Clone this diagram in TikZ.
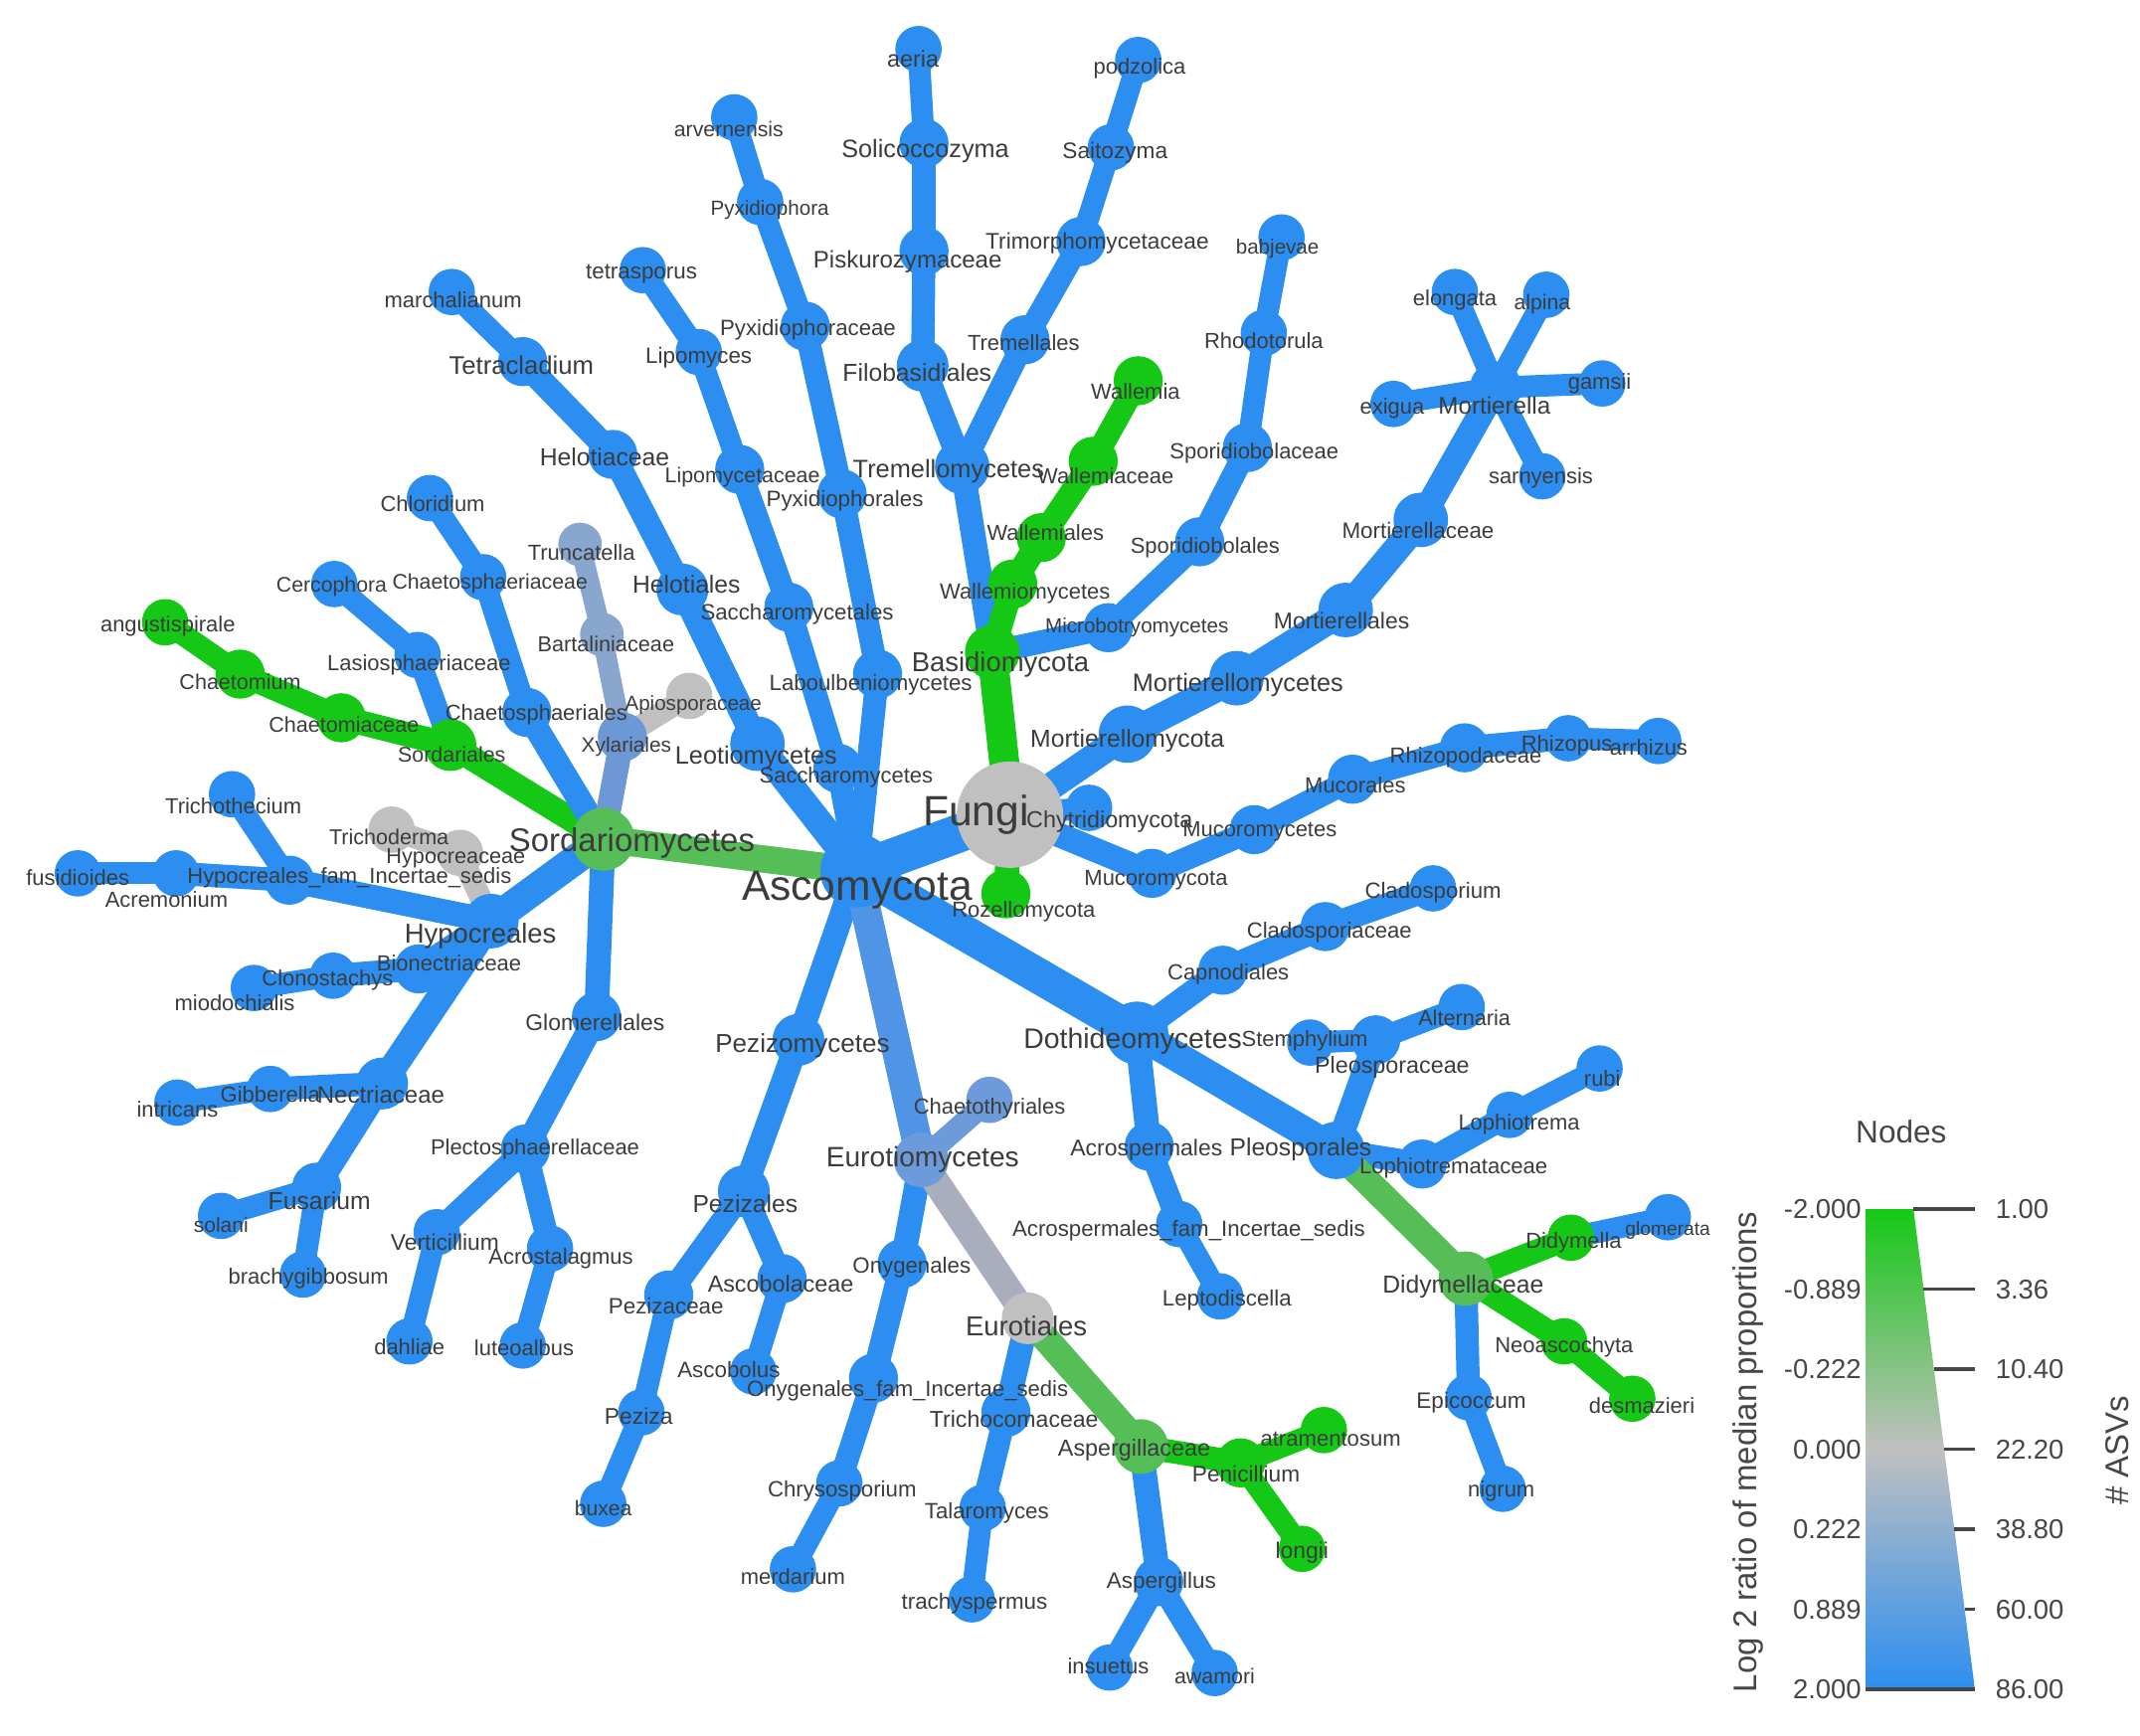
\documentclass[tikz,border=0pt]{standalone}
\usepackage{fontspec}
\setmainfont{Liberation Sans}
\usetikzlibrary{backgrounds}
\definecolor{cb}{RGB}{44,142,240}
\definecolor{cg}{RGB}{22,200,22}
\definecolor{cm}{RGB}{86,190,86}
\definecolor{cy}{RGB}{192,192,192}
\definecolor{cx1}{RGB}{108,152,214}
\definecolor{cx2}{RGB}{136,166,206}
\definecolor{ce}{RGB}{80,148,230}
\definecolor{cen}{RGB}{108,154,218}
\definecolor{cey}{RGB}{168,174,190}
\definecolor{labc}{RGB}{60,60,60}
\definecolor{legc}{RGB}{70,70,70}
\tikzset{
 nd/.style 2 args={circle,fill=#1,draw=none,inner sep=0pt,minimum size=#2},
 ed/.style 2 args={draw=#1,line width=#2,line cap=round},
 lb/.style={font=\fontsize{#1}{#1}\selectfont,text=labc,inner sep=0pt,anchor=center},
 lg/.style={font=\fontsize{20}{20}\selectfont,text=legc,inner sep=0pt},
 tick/.style={draw=legc,line width=2.5pt},
}
\newcommand{\TN}[5]{\node[nd={#4}{#5}] (#1) at (#2,#3) {};}
\newcommand{\TE}[4]{\draw[ed={#1}{#2}] (#3.center) -- (#4.center);}
\newcommand{\TL}[5]{\node[lb=#4] (#1) at (#2,#3) {#5};}
\begin{document}
\begin{tikzpicture}[x=1pt,y=-1pt]
\useasboundingbox (0,0) rectangle (1568,1272);
% ---------- nodes ----------
\TN{fungi}{740}{597}{cy}{78}
\TN{asco}{628}{638}{cb}{54}
\TN{basid}{727}{478}{cg}{40}
\TN{rozel}{737}{655}{cg}{36}
\TN{chytr}{798}{592}{cb}{34}
\TN{mucmy}{844}{640}{cb}{36}
\TN{mortmy}{826}{538}{cb}{42}
% Basidiomycota
\TN{treme}{705}{342}{cb}{40}
\TN{filob}{676}{268}{cb}{38}
\TN{pisku}{677}{184}{cb}{36}
\TN{solic}{677}{105}{cb}{36}
\TN{aeria}{673}{36}{cb}{34}
\TN{tremel}{751}{249}{cb}{36}
\TN{trimo}{792}{177}{cb}{36}
\TN{saito}{814}{108}{cb}{34}
\TN{podzo}{834}{44}{cb}{34}
\TN{wallmy}{742}{428}{cg}{36}
\TN{wallal}{763}{394}{cg}{36}
\TN{wallac}{801}{338}{cg}{36}
\TN{wallem}{834}{279}{cg}{36}
\TN{micro}{812}{460}{cb}{36}
\TN{sporal}{879}{397}{cb}{36}
\TN{sporac}{914}{328}{cb}{36}
\TN{rhodo}{926}{244}{cb}{34}
\TN{babje}{939}{174}{cb}{34}
% Mortierellomycota
\TN{mortcet}{906}{497}{cb}{40}
\TN{mortal}{986}{447}{cb}{40}
\TN{mortac}{1041}{381}{cb}{40}
\TN{mortie}{1096}{284}{cb}{38}
\TN{elong}{1066}{214}{cb}{34}
\TN{alpin}{1133}{216}{cb}{34}
\TN{gamsi}{1174}{281}{cb}{34}
\TN{exigu}{1021}{296}{cb}{34}
\TN{sarny}{1130}{349}{cb}{34}
% Mucoromycota
\TN{mucet}{919}{608}{cb}{36}
\TN{mucal}{991}{571}{cb}{36}
\TN{rhizac}{1073}{548}{cb}{36}
\TN{rhizo}{1149}{541}{cb}{34}
\TN{arrhi}{1215}{543}{cb}{34}
% Sordariomycetes
\TN{sordmy}{442}{615}{cm}{46}
\TN{sordal}{330}{546}{cg}{38}
\TN{chaetac}{250}{526}{cg}{36}
\TN{chaetom}{176}{494}{cg}{36}
\TN{angus}{121}{456}{cg}{34}
\TN{lasio}{306}{480}{cb}{34}
\TN{cerco}{245}{428}{cb}{34}
\TN{chsphal}{386}{522}{cb}{36}
\TN{chsphac}{354}{423}{cb}{34}
\TN{chlori}{315}{365}{cb}{34}
\TN{xylal}{456}{540}{cx1}{36}
\TN{bartal}{441}{465}{cx2}{32}
\TN{trunc}{425}{399}{cx2}{32}
\TN{apios}{505}{510}{cy}{34}
\TN{hypoal}{360}{675}{cb}{40}
\TN{hfam}{212}{645}{cb}{36}
\TN{trichot}{170}{582}{cb}{34}
\TN{acrem}{129}{640}{cb}{34}
\TN{fusid}{57}{640}{cb}{34}
\TN{hypoac}{337}{625}{cy}{34}
\TN{trichod}{287}{608}{cy}{34}
\TN{bionec}{307}{710}{cb}{36}
\TN{clono}{244}{715}{cb}{34}
\TN{miodo}{186}{724}{cb}{34}
\TN{nectr}{280}{794}{cb}{38}
\TN{gibbe}{198}{798}{cb}{34}
\TN{intri}{130}{808}{cb}{34}
\TN{fusar}{232}{870}{cb}{36}
\TN{solan}{162}{891}{cb}{34}
\TN{brach}{222}{934}{cb}{34}
\TN{glome}{437}{745}{cb}{36}
\TN{plect}{385}{842}{cb}{36}
\TN{verti}{320}{903}{cb}{34}
\TN{dahli}{300}{983}{cb}{34}
\TN{acros}{403}{915}{cb}{34}
\TN{luteo}{383}{986}{cb}{34}
% Leotiomycetes
\TN{leoti}{555}{545}{cb}{40}
\TN{helal}{500}{432}{cb}{38}
\TN{helac}{449}{333}{cb}{36}
\TN{tetra}{383}{265}{cb}{36}
\TN{march}{331}{214}{cb}{34}
% Saccharomycetes
\TN{sacchmy}{614}{563}{cb}{36}
\TN{sacchal}{578}{445}{cb}{36}
\TN{lipac}{542}{344}{cb}{36}
\TN{lipom}{512}{258}{cb}{34}
\TN{tetras}{471}{198}{cb}{34}
% Laboulbeniomycetes
\TN{labou}{643}{494}{cb}{36}
\TN{pyxal}{617}{362}{cb}{36}
\TN{pyxac}{590}{239}{cb}{36}
\TN{pyxid}{557}{148}{cb}{34}
\TN{arver}{538}{86}{cb}{34}
% Pezizomycetes
\TN{pezmy}{585}{762}{cb}{38}
\TN{pezal}{545}{873}{cb}{38}
\TN{pezac}{490}{949}{cb}{36}
\TN{peziz}{470}{1035}{cb}{34}
\TN{buxea}{442}{1102}{cb}{34}
\TN{ascac}{573}{937}{cb}{36}
\TN{ascol}{552}{1005}{cb}{34}
% Eurotiomycetes
\TN{eurmy}{675}{850}{cen}{40}
\TN{chaet}{725}{806}{cen}{34}
\TN{onyal}{661}{926}{cb}{36}
\TN{onyfam}{640}{1010}{cb}{36}
\TN{chrys}{615}{1087}{cb}{34}
\TN{merda}{581}{1150}{cb}{34}
\TN{eural}{753}{966}{cy}{38}
\TN{trico}{737}{1035}{cb}{36}
\TN{talar}{720}{1105}{cb}{34}
\TN{trach}{712}{1172}{cb}{34}
\TN{asplac}{836}{1060}{cm}{40}
\TN{penic}{909}{1072}{cg}{36}
\TN{atram}{970}{1048}{cg}{34}
\TN{longi}{954}{1135}{cg}{34}
\TN{asplus}{849}{1159}{cb}{36}
\TN{insue}{813}{1222}{cb}{34}
\TN{awamo}{890}{1226}{cb}{34}
% Dothideomycetes
\TN{dothi}{833}{757}{cb}{46}
\TN{capno}{896}{711}{cb}{36}
\TN{cladac}{971}{679}{cb}{36}
\TN{cladum}{1050}{651}{cb}{34}
\TN{pleal}{979}{843}{cb}{42}
\TN{pleac}{1008}{762}{cb}{36}
\TN{stemp}{960}{764}{cb}{34}
\TN{alter}{1071}{738}{cb}{34}
\TN{lophac}{1042}{853}{cb}{36}
\TN{lophi}{1106}{817}{cb}{34}
\TN{rubi}{1172}{783}{cb}{34}
\TN{didac}{1074}{937}{cm}{40}
\TN{didym}{1151}{907}{cg}{34}
\TN{glomr}{1222}{892}{cb}{34}
\TN{neoas}{1146}{983}{cg}{34}
\TN{desma}{1196}{1025}{cg}{34}
\TN{epico}{1076}{1024}{cb}{34}
\TN{nigru}{1101}{1091}{cb}{34}
\TN{acrsal}{842}{840}{cb}{36}
\TN{acrfam}{864}{897}{cb}{34}
\TN{lepto}{894}{950}{cb}{34}
% ---------- edges ----------
\begin{pgfonlayer}{background}
\fill[white] (0,0) rectangle (1568,1272);
\TE{cb}{28}{fungi}{asco}
\TE{cg}{22}{fungi}{basid}
\TE{cg}{18}{fungi}{rozel}
\TE{cb}{16}{fungi}{chytr}
\TE{cb}{18}{fungi}{mucmy}
\TE{cb}{20}{fungi}{mortmy}
\TE{cb}{18}{basid}{treme}
\TE{cb}{18}{treme}{filob}
\TE{cb}{17}{filob}{pisku}
\TE{cb}{17}{pisku}{solic}
\TE{cb}{16}{solic}{aeria}
\TE{cb}{17}{treme}{tremel}
\TE{cb}{17}{tremel}{trimo}
\TE{cb}{16}{trimo}{saito}
\TE{cb}{16}{saito}{podzo}
\TE{cg}{18}{basid}{wallmy}
\TE{cg}{18}{wallmy}{wallal}
\TE{cg}{18}{wallal}{wallac}
\TE{cg}{17}{wallac}{wallem}
\TE{cb}{17}{basid}{micro}
\TE{cb}{17}{micro}{sporal}
\TE{cb}{17}{sporal}{sporac}
\TE{cb}{16}{sporac}{rhodo}
\TE{cb}{16}{rhodo}{babje}
\TE{cb}{20}{mortmy}{mortcet}
\TE{cb}{20}{mortcet}{mortal}
\TE{cb}{20}{mortal}{mortac}
\TE{cb}{19}{mortac}{mortie}
\TE{cb}{16}{mortie}{elong}
\TE{cb}{16}{mortie}{alpin}
\TE{cb}{16}{mortie}{gamsi}
\TE{cb}{16}{mortie}{exigu}
\TE{cb}{16}{mortie}{sarny}
\TE{cb}{17}{mucmy}{mucet}
\TE{cb}{17}{mucet}{mucal}
\TE{cb}{17}{mucal}{rhizac}
\TE{cb}{17}{rhizac}{rhizo}
\TE{cb}{16}{rhizo}{arrhi}
\TE{cm}{20}{asco}{sordmy}
\TE{cg}{18}{sordmy}{sordal}
\TE{cg}{18}{sordal}{chaetac}
\TE{cg}{17}{chaetac}{chaetom}
\TE{cg}{16}{chaetom}{angus}
\TE{cb}{16}{sordal}{lasio}
\TE{cb}{16}{lasio}{cerco}
\TE{cb}{18}{sordmy}{chsphal}
\TE{cb}{16}{chsphal}{chsphac}
\TE{cb}{16}{chsphac}{chlori}
\TE{cx1}{18}{sordmy}{xylal}
\TE{cx2}{15}{xylal}{bartal}
\TE{cx2}{15}{bartal}{trunc}
\TE{cy}{16}{xylal}{apios}
\TE{cb}{22}{sordmy}{hypoal}
\TE{cb}{18}{hypoal}{hfam}
\TE{cb}{16}{hfam}{trichot}
\TE{cb}{17}{hfam}{acrem}
\TE{cb}{16}{acrem}{fusid}
\TE{cy}{16}{hypoal}{hypoac}
\TE{cy}{16}{hypoac}{trichod}
\TE{cb}{18}{hypoal}{bionec}
\TE{cb}{17}{bionec}{clono}
\TE{cb}{16}{clono}{miodo}
\TE{cb}{20}{hypoal}{nectr}
\TE{cb}{17}{nectr}{gibbe}
\TE{cb}{16}{gibbe}{intri}
\TE{cb}{18}{nectr}{fusar}
\TE{cb}{16}{fusar}{solan}
\TE{cb}{16}{fusar}{brach}
\TE{cb}{18}{sordmy}{glome}
\TE{cb}{18}{glome}{plect}
\TE{cb}{17}{plect}{verti}
\TE{cb}{16}{verti}{dahli}
\TE{cb}{17}{plect}{acros}
\TE{cb}{16}{acros}{luteo}
\TE{cb}{20}{asco}{leoti}
\TE{cb}{19}{leoti}{helal}
\TE{cb}{18}{helal}{helac}
\TE{cb}{18}{helac}{tetra}
\TE{cb}{16}{tetra}{march}
\TE{cb}{17}{asco}{sacchmy}
\TE{cb}{17}{sacchmy}{sacchal}
\TE{cb}{17}{sacchal}{lipac}
\TE{cb}{16}{lipac}{lipom}
\TE{cb}{16}{lipom}{tetras}
\TE{cb}{17}{asco}{labou}
\TE{cb}{17}{labou}{pyxal}
\TE{cb}{17}{pyxal}{pyxac}
\TE{cb}{16}{pyxac}{pyxid}
\TE{cb}{16}{pyxid}{arver}
\TE{cb}{18}{asco}{pezmy}
\TE{cb}{18}{pezmy}{pezal}
\TE{cb}{17}{pezal}{pezac}
\TE{cb}{16}{pezac}{peziz}
\TE{cb}{16}{peziz}{buxea}
\TE{cb}{17}{pezal}{ascac}
\TE{cb}{16}{ascac}{ascol}
\TE{ce}{22}{asco}{eurmy}
\TE{cen}{16}{eurmy}{chaet}
\TE{cb}{18}{eurmy}{onyal}
\TE{cb}{18}{onyal}{onyfam}
\TE{cb}{17}{onyfam}{chrys}
\TE{cb}{16}{chrys}{merda}
\TE{cey}{20}{eurmy}{eural}
\TE{cb}{18}{eural}{trico}
\TE{cb}{17}{trico}{talar}
\TE{cb}{16}{talar}{trach}
\TE{cm}{20}{eural}{asplac}
\TE{cg}{17}{asplac}{penic}
\TE{cg}{16}{penic}{atram}
\TE{cg}{16}{penic}{longi}
\TE{cb}{18}{asplac}{asplus}
\TE{cb}{16}{asplus}{insue}
\TE{cb}{16}{asplus}{awamo}
\TE{cb}{26}{asco}{dothi}
\TE{cb}{18}{dothi}{capno}
\TE{cb}{18}{capno}{cladac}
\TE{cb}{17}{cladac}{cladum}
\TE{cb}{22}{dothi}{pleal}
\TE{cb}{18}{pleal}{pleac}
\TE{cb}{16}{pleac}{stemp}
\TE{cb}{16}{pleac}{alter}
\TE{cb}{17}{pleal}{lophac}
\TE{cb}{17}{lophac}{lophi}
\TE{cb}{16}{lophi}{rubi}
\TE{cm}{20}{pleal}{didac}
\TE{cg}{17}{didac}{didym}
\TE{cb}{16}{didym}{glomr}
\TE{cg}{17}{didac}{neoas}
\TE{cg}{16}{neoas}{desma}
\TE{cb}{17}{didac}{epico}
\TE{cb}{16}{epico}{nigru}
\TE{cb}{18}{dothi}{acrsal}
\TE{cb}{17}{acrsal}{acrfam}
\TE{cb}{16}{acrfam}{lepto}
\end{pgfonlayer}
% ---------- labels ----------
\TL{Lfungi}{715}{597}{31}{Fungi}
\TL{Lasco}{628}{652}{31}{Ascomycota}
\TL{Lbasid}{733}{487}{20}{Basidiomycota}
\TL{Lrozel}{750}{668}{16}{Rozellomycota}
\TL{Lchytr}{813}{602}{17}{Chytridiomycota}
\TL{Lmucmy}{847}{645}{16}{Mucoromycota}
\TL{Lmortmy}{826}{543}{18}{Mortierellomycota}
\TL{Ltreme}{695}{345}{18.5}{Tremellomycetes}
\TL{Lfilob}{672}{273}{18}{Filobasidiales}
\TL{Lpisku}{665}{192}{17.5}{Piskurozymaceae}
\TL{Lsolic}{678}{111}{18.4}{Solicoccozyma}
\TL{Laeria}{669}{43}{17}{aeria}
\TL{Ltremel}{750}{251}{16}{Tremellales}
\TL{Ltrimo}{804}{178}{16.5}{Trimorphomycetaceae}
\TL{Lsaito}{817}{112}{16.5}{Saitozyma}
\TL{Lpodzo}{835}{50}{16}{podzolica}
\TL{Lwallmy}{751}{435}{16}{Wallemiomycetes}
\TL{Lwallal}{766}{390}{16}{Wallemiales}
\TL{Lwallac}{810}{349}{16}{Wallemiaceae}
\TL{Lwallem}{832}{287}{16}{Wallemia}
\TL{Lmicro}{833}{460}{15}{Microbotryomycetes}
\TL{Lsporal}{883}{401}{16}{Sporidiobolales}
\TL{Lsporac}{919}{332}{16}{Sporidiobolaceae}
\TL{Lrhodo}{926}{250}{16}{Rhodotorula}
\TL{Lbabje}{936}{182}{15}{babjevae}
\TL{Lmortcet}{907}{502}{18.4}{Mortierellomycetes}
\TL{Lmortal}{983}{455}{16.7}{Mortierellales}
\TL{Lmortac}{1039}{389}{16.3}{Mortierellaceae}
\TL{Lmortie}{1095}{297}{17.6}{Mortierella}
\TL{Lelong}{1066}{220}{16}{elongata}
\TL{Lalpin}{1130}{223}{15.5}{alpina}
\TL{Lgamsi}{1172}{281}{16}{gamsii}
\TL{Lexigu}{1020}{299}{16}{exigua}
\TL{Lsarny}{1129}{350}{16}{sarnyensis}
\TL{Lmucet}{923}{609}{16}{Mucoromycetes}
\TL{Lmucal}{993}{575}{16}{Mucorales}
\TL{Lrhizac}{1074}{555}{16}{Rhizopodaceae}
\TL{Lrhizo}{1148}{546}{16}{Rhizopus}
\TL{Larrhi}{1208}{548}{16}{arrhizus}
\TL{Lsordmy}{463}{618}{24}{Sordariomycetes}
\TL{Lsordal}{331}{553}{15.6}{Sordariales}
\TL{Lchaetac}{252}{531}{15.7}{Chaetomiaceae}
\TL{Lchaetom}{176}{500}{15.7}{Chaetomium}
\TL{Langus}{123}{459}{16}{angustispirale}
\TL{Llasio}{307}{487}{16}{Lasiosphaeriaceae}
\TL{Lcerco}{243}{430}{15.5}{Cercophora}
\TL{Lchsphal}{393}{524}{16}{Chaetosphaeriales}
\TL{Lchsphac}{359}{428}{15.5}{Chaetosphaeriaceae}
\TL{Lchlori}{317}{369}{16}{Chloridium}
\TL{Lxylal}{459}{547}{15.2}{Xylariales}
\TL{Lbartal}{444}{472}{15.8}{Bartaliniaceae}
\TL{Ltrunc}{426}{405}{16}{Truncatella}
\TL{Lapios}{508}{517}{15}{Apiosporaceae}
\TL{Lhypoal}{352}{686}{20}{Hypocreales}
\TL{Lhfam}{256}{643}{16}{Hypocreales\_fam\_Incertae\_sedis}
\TL{Ltrichot}{171}{591}{16}{Trichothecium}
\TL{Lacrem}{122}{659}{16}{Acremonium}
\TL{Lfusid}{57}{643}{16}{fusidioides}
\TL{Lhypoac}{334}{629}{15.8}{Hypocreaceae}
\TL{Ltrichod}{285}{613}{15.7}{Trichoderma}
\TL{Lbionec}{329}{706}{16}{Bionectriaceae}
\TL{Lclono}{240}{718}{16}{Clonostachys}
\TL{Lmiodo}{172}{735}{16}{miodochialis}
\TL{Lnectr}{279}{802}{17.5}{Nectriaceae}
\TL{Lgibbe}{198}{802}{16}{Gibberella}
\TL{Lintri}{130}{813}{16}{intricans}
\TL{Lfusar}{234}{880}{18}{Fusarium}
\TL{Lsolan}{162}{898}{15.3}{solani}
\TL{Lbrach}{226}{937}{16}{brachygibbosum}
\TL{Lglome}{436}{749}{16.7}{Glomerellales}
\TL{Lplect}{392}{842}{16}{Plectosphaerellaceae}
\TL{Lverti}{326}{910}{16.6}{Verticillium}
\TL{Ldahli}{300}{987}{16}{dahliae}
\TL{Lacros}{411}{922}{16}{Acrostalagmus}
\TL{Lluteo}{384}{988}{16}{luteoalbus}
\TL{Ltetra}{382}{268}{18.7}{Tetracladium}
\TL{Lmarch}{332}{220}{16}{marchalianum}
\TL{Lhelac}{443}{335}{18}{Helotiaceae}
\TL{Lhelal}{503}{428}{18}{Helotiales}
\TL{Lleoti}{554}{555}{18.4}{Leotiomycetes}
\TL{Lsacchmy}{620}{570}{16}{Saccharomycetes}
\TL{Lsacchal}{584}{450}{16.2}{Saccharomycetales}
\TL{Llipac}{544}{350}{15.6}{Lipomycetaceae}
\TL{Llipom}{512}{262}{16.3}{Lipomyces}
\TL{Ltetras}{470}{201}{16.3}{tetrasporus}
\TL{Llabou}{638}{502}{16.2}{Laboulbeniomycetes}
\TL{Lpyxal}{619}{367}{16.3}{Pyxidiophorales}
\TL{Lpyxac}{592}{242}{16.2}{Pyxidiophoraceae}
\TL{Lpyxid}{564}{154}{15}{Pyxidiophora}
\TL{Larver}{534}{95}{15.5}{arvernensis}
\TL{Lpezmy}{588}{766}{19}{Pezizomycetes}
\TL{Lpezal}{546}{882}{18}{Pezizales}
\TL{Lpezac}{488}{957}{16.3}{Pezizaceae}
\TL{Lpeziz}{468}{1038}{16.7}{Peziza}
\TL{Lbuxea}{442}{1105}{15.4}{buxea}
\TL{Lascac}{572}{941}{17}{Ascobolaceae}
\TL{Lascol}{534}{1004}{16.3}{Ascobolus}
\TL{Leurmy}{676}{850}{20.5}{Eurotiomycetes}
\TL{Lchaet}{725}{812}{16}{Chaetothyriales}
\TL{Lonyal}{668}{929}{16.2}{Onygenales}
\TL{Lonyfam}{665}{1019}{16.1}{Onygenales\_fam\_Incertae\_sedis}
\TL{Lchrys}{617}{1093}{16.2}{Chrysosporium}
\TL{Lmerda}{581}{1155}{16}{merdarium}
\TL{Leural}{752}{972}{20}{Eurotiales}
\TL{Ltrico}{743}{1040}{16.8}{Trichocomaceae}
\TL{Ltalar}{723}{1109}{16.2}{Talaromyces}
\TL{Ltrach}{714}{1175}{16.3}{trachyspermus}
\TL{Lasplac}{831}{1063}{17}{Aspergillaceae}
\TL{Lpenic}{913}{1080}{16.5}{Penicillium}
\TL{Latram}{975}{1055}{16.1}{atramentosum}
\TL{Llongi}{954}{1138}{16.7}{longii}
\TL{Lasplus}{851}{1160}{16.4}{Aspergillus}
\TL{Linsue}{812}{1221}{16}{insuetus}
\TL{Lawamo}{890}{1228}{15.6}{awamori}
\TL{Ldothi}{830}{763}{20.7}{Dothideomycetes}
\TL{Lstemp}{956}{763}{16}{Stemphylium}
\TL{Lcapno}{900}{714}{16}{Capnodiales}
\TL{Lcladac}{974}{683}{16.1}{Cladosporiaceae}
\TL{Lcladum}{1050}{654}{16.2}{Cladosporium}
\TL{Lpleal}{953}{842}{18}{Pleosporales}
\TL{Lpleac}{1020}{782}{17}{Pleosporaceae}
\TL{Lalter}{1073}{746}{15.8}{Alternaria}
\TL{Llophac}{1065}{856}{16.1}{Lophiotremataceae}
\TL{Llophi}{1113}{824}{16}{Lophiotrema}
\TL{Lrubi}{1174}{790}{16}{rubi}
\TL{Ldidac}{1072}{943}{18}{Didymellaceae}
\TL{Ldidym}{1153}{911}{16}{Didymella}
\TL{Lglomr}{1222}{902}{14}{glomerata}
\TL{Lneoas}{1146}{987}{16}{Neoascochyta}
\TL{Ldesma}{1203}{1030}{16}{desmazieri}
\TL{Lepico}{1078}{1028}{16.4}{Epicoccum}
\TL{Lnigru}{1100}{1093}{16}{nigrum}
\TL{Lacrsal}{840}{843}{16.7}{Acrospermales}
\TL{Lacrfam}{871}{902}{16.2}{Acrospermales\_fam\_Incertae\_sedis}
\TL{Llepto}{899}{953}{16.2}{Leptodiscella}
% ---------- legend ----------
\shade[top color=cg, bottom color=cb, middle color=cy] (1367,886) -- (1402,886) -- (1447,1238) -- (1367,1238) -- cycle;
\draw[tick] (1367,1238) -- (1447,1238);
\draw[tick] (1402,886) -- (1447,886);
\draw[tick] (1409.5,944.7) -- (1447,944.7);
\draw[tick] (1417,1003.3) -- (1447,1003.3);
\draw[tick] (1424.5,1062) -- (1447,1062);
\draw[tick] (1432,1120.7) -- (1447,1120.7);
\draw[tick] (1439.5,1179.3) -- (1447,1179.3);
\node[lg,anchor=east] (v0) at (1364,886) {-2.000};
\node[lg,anchor=east] (v1) at (1364,944.7) {-0.889};
\node[lg,anchor=east] (v2) at (1364,1003.3) {-0.222};
\node[lg,anchor=east] (v3) at (1364,1062) {0.000};
\node[lg,anchor=east] (v4) at (1364,1120.7) {0.222};
\node[lg,anchor=east] (v5) at (1364,1179.3) {0.889};
\node[lg,anchor=east] (v6) at (1364,1238) {2.000};
\node[lg,anchor=west] (s0) at (1462,886) {1.00};
\node[lg,anchor=west] (s1) at (1462,944.7) {3.36};
\node[lg,anchor=west] (s2) at (1462,1003.3) {10.40};
\node[lg,anchor=west] (s3) at (1462,1062) {22.20};
\node[lg,anchor=west] (s4) at (1462,1120.7) {38.80};
\node[lg,anchor=west] (s5) at (1462,1179.3) {60.00};
\node[lg,anchor=west] (s6) at (1462,1238) {86.00};
\node[font=\fontsize{23}{23}\selectfont,text=legc,inner sep=0pt] (ntitle) at (1393,829) {Nodes};
\node[font=\fontsize{24}{24}\selectfont,text=legc,inner sep=0pt,rotate=90] (ltitle) at (1281,1064) {Log 2 ratio of median proportions};
\node[font=\fontsize{24}{24}\selectfont,text=legc,inner sep=0pt,rotate=90] (atitle) at (1551,1063) {\# ASVs};
\end{tikzpicture}
\end{document}
